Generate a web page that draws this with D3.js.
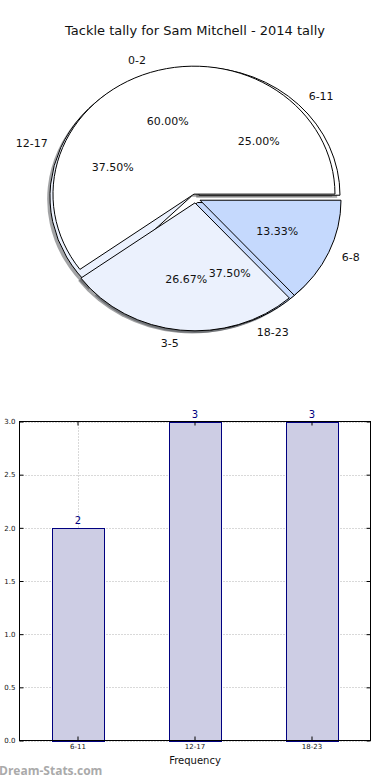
<!DOCTYPE html>
<html>
<head>
<meta charset="utf-8">
<script src="https://cdn.jsdelivr.net/npm/d3@7"></script>
<style>
body { margin: 0; background: #fff; }
text { font-family: "DejaVu Sans", sans-serif; }
</style>
</head>
<body>
<div id="chart"></div>
<script>
const width = 390;
const height = 780;

// pie 1 (tackles per game)
const pieLabelsA = ["0-2", "3-5", "6-8"];
const pieValuesA = [9, 4, 2];
// pie 2 (tackle bands)
const pieLabelsB = ["6-11", "12-17", "18-23"];
const pieValuesB = [2, 3, 3];
const pieColors = ["#ffffff", "#ebf1fd", "#c5d9fd"];

// bar chart
const barCats = ["6-11", "12-17", "18-23"];
const barValues = [2, 3, 3];
const yTicks = [0, 0.5, 1, 1.5, 2, 2.5, 3];

const svg = d3.select("#chart").append("svg")
    .attr("width", width)
    .attr("height", height);

svg.append("text")
    .attr("x", 195).attr("y", 35)
    .attr("text-anchor", "middle")
    .attr("font-size", 13)
    .attr("fill", "#111")
    .text("Tackle tally for Sam Mitchell - 2014 tally");

// ---- pie ----
const cx = 195.5, cy = 198.4, rx = 141, ry = 128;
const explode = 0.035;

// matplotlib style: start at 3 o'clock, counter-clockwise
const pie = d3.pie().sort(null).startAngle(Math.PI / 2).endAngle(Math.PI / 2 - 2 * Math.PI);
const arc = d3.arc().innerRadius(0).outerRadius(1);

function wedges(values, labels) {
    return pie(values).map((d, i) => {
        const mid = (d.startAngle + d.endAngle) / 2;
        const total = d3.sum(values);
        return {
            d, label: labels[i], color: pieColors[i], mid,
            pct: (100 * values[i] / total).toFixed(2) + "%",
            ox: Math.sin(mid) * explode * rx,
            oy: -Math.cos(mid) * explode * ry
        };
    });
}

const wA = wedges(pieValuesA, pieLabelsA);
const wB = wedges(pieValuesB, pieLabelsB);

const pieG = svg.append("g");

function drawWedges(data, shadow) {
    pieG.selectAll(null)
        .data(data)
        .enter()
        .append("path")
        .attr("d", w => arc(w.d))
        .attr("transform", w => `translate(${cx + w.ox + (shadow ? -2.8 : 0)},${cy + w.oy + (shadow ? 2.6 : 0)}) scale(${rx},${ry})`)
        .attr("fill", w => shadow ? d3.rgb(w.color).darker(3.4) : w.color)
        .attr("fill-opacity", shadow ? 0.5 : 1)
        .attr("stroke", shadow ? "none" : "#000")
        .attr("stroke-width", 1)
        .attr("vector-effect", "non-scaling-stroke");
}

drawWedges(wB, true);
drawWedges(wA, true);
drawWedges(wB, false);
drawWedges(wA, false);

function drawLabels(data) {
    pieG.selectAll(null)
        .data(data)
        .enter()
        .append("text")
        .attr("x", w => cx + w.ox + Math.sin(w.mid) * 1.1 * rx)
        .attr("y", w => cy + w.oy - Math.cos(w.mid) * 1.1 * ry)
        .attr("dy", "0.35em")
        .attr("text-anchor", w => Math.sin(w.mid) < 0 ? "end" : "start")
        .attr("font-size", 11)
        .attr("fill", "#111")
        .text(w => w.label);

    pieG.selectAll(null)
        .data(data)
        .enter()
        .append("text")
        .attr("x", w => cx + w.ox + Math.sin(w.mid) * 0.6 * rx)
        .attr("y", w => cy + w.oy - Math.cos(w.mid) * 0.6 * ry)
        .attr("dy", "0.35em")
        .attr("text-anchor", "middle")
        .attr("font-size", 11)
        .attr("fill", "#111")
        .text(w => w.pct);
}
drawLabels(wA);
drawLabels(wB);

// ---- bar chart ----
const m = { left: 19.5, right: 370.5, top: 421.5, bottom: 740.5 };

const x = d3.scaleBand().domain(barCats).range([m.left, m.right]).paddingInner(0).paddingOuter(0);
const y = d3.scaleLinear().domain([0, 3]).range([m.bottom, m.top]);
const barW = x.bandwidth() * 0.445;

const grid = svg.append("g")
    .attr("stroke", "#000")
    .attr("stroke-opacity", 0.3)
    .attr("stroke-dasharray", "1,2");

grid.selectAll(null).data(yTicks).enter().append("line")
    .attr("x1", m.left).attr("x2", m.right)
    .attr("y1", d => Math.round(y(d)) + 0.5).attr("y2", d => Math.round(y(d)) + 0.5);

svg.selectAll(".bar")
    .data(barValues)
    .enter()
    .append("rect")
    .attr("class", "bar")
    .attr("x", (d, i) => Math.round(x(barCats[i]) + x.bandwidth() / 2 - barW / 2) + 0.5)
    .attr("width", Math.round(barW))
    .attr("y", d => Math.round(y(d)) + 0.5)
    .attr("height", d => Math.round(y(0)) - Math.round(y(d)))
    .attr("fill", "#cdcde4")
    .attr("stroke", "#000080")
    .attr("stroke-width", 1);

grid.selectAll(null).data(barCats).enter().append("line")
    .attr("x1", d => Math.round(x(d) + x.bandwidth() / 2) + 0.5)
    .attr("x2", d => Math.round(x(d) + x.bandwidth() / 2) + 0.5)
    .attr("y1", m.top).attr("y2", m.bottom);

// value labels
svg.selectAll(".val")
    .data(barValues)
    .enter()
    .append("text")
    .attr("x", (d, i) => x(barCats[i]) + x.bandwidth() / 2)
    .attr("y", d => y(d) - 4)
    .attr("text-anchor", "middle")
    .attr("font-size", 10)
    .attr("fill", "#000080")
    .text(d => d);

// axes
const yAxis = svg.append("g")
    .attr("transform", `translate(${m.left},0)`)
    .call(d3.axisLeft(y).tickValues(yTicks).tickFormat(d3.format(".1f")).tickSizeInner(-4).tickSizeOuter(0).tickPadding(4));
const yAxisR = svg.append("g")
    .attr("transform", `translate(${m.right},0)`)
    .call(d3.axisRight(y).tickValues(yTicks).tickFormat("").tickSizeInner(-4).tickSizeOuter(0));
const xAxis = svg.append("g")
    .attr("transform", `translate(0,${m.bottom})`)
    .call(d3.axisBottom(x).tickSizeInner(-4).tickSizeOuter(0).tickPadding(4));
const xAxisT = svg.append("g")
    .attr("transform", `translate(0,${m.top})`)
    .call(d3.axisTop(x).tickFormat("").tickSizeInner(-4).tickSizeOuter(0));

[yAxis, yAxisR, xAxis, xAxisT].forEach(a => {
    a.select(".domain").remove();
    a.selectAll("text").attr("font-size", 7).attr("fill", "#111").attr("font-family", "DejaVu Sans, sans-serif");
    a.selectAll(".tick line").attr("stroke", "#000");
});

svg.append("rect")
    .attr("x", m.left).attr("y", m.top)
    .attr("width", m.right - m.left).attr("height", m.bottom - m.top)
    .attr("fill", "none").attr("stroke", "#000").attr("stroke-width", 1);

svg.append("text")
    .attr("x", (m.left + m.right) / 2).attr("y", 764)
    .attr("text-anchor", "middle")
    .attr("font-size", 10)
    .attr("fill", "#111")
    .text("Frequency");

svg.append("text")
    .attr("x", -1).attr("y", 775)
    .attr("font-size", 12)
    .attr("font-weight", "bold")
    .attr("fill", "#aaaaaa")
    .style("font-family", "'Open Sans', sans-serif")
    .text("Dream-Stats.com");
</script>
</body>
</html>
